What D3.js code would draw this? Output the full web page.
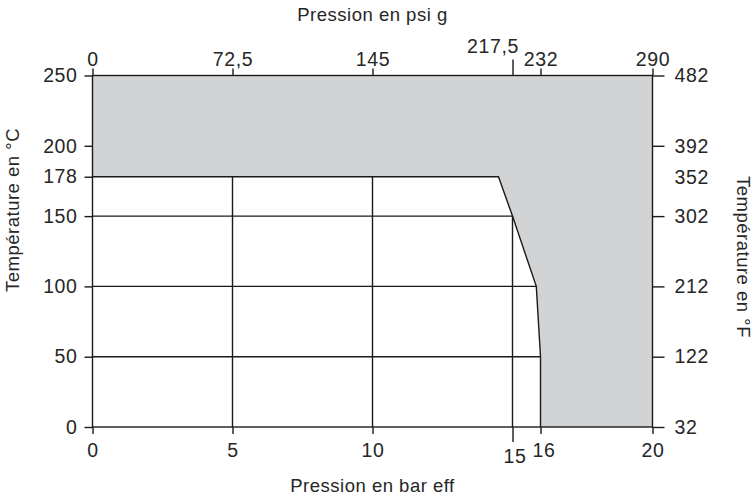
<!DOCTYPE html>
<html>
<head>
<meta charset="utf-8">
<script src="https://cdn.jsdelivr.net/npm/d3@7"></script>
<style>
  body { margin: 0; background: #fff; }
  text { font-family: "Liberation Sans", Arial, sans-serif; fill: #262626; }
  .tick text { font-size: 19.5px; letter-spacing: 0.6px; }
  .axis-title { font-size: 18.5px; letter-spacing: 0.5px; }
</style>
</head>
<body>
<div class="chart"></div>
<script>
// Tick labels on the four axes
var barTicks = [0, 5, 10, 15, 16, 20];
var psiTicks = [0, 72.5, 145, 217.5, 232, 290];
var celsiusTicks = [0, 50, 100, 150, 178, 200, 250];
var fahrenheitTicks = [32, 122, 212, 302, 352, 392, 482];

// Limit of the operating range (pressure in bar, temperature in °C)
var envelopeBar = [0, 14.5, 15, 15.85, 16, 16];
var envelopeC = [178, 178, 150, 100, 50, 0];

// Grid lines inside the white area
var gridC = [50, 100, 150];
var gridBar = [5, 10, 15];

var svgWidth = 753;
var svgHeight = 497;
var margin = { top: 75.5, right: 100.5, bottom: 70, left: 92.5 };
var width = svgWidth - margin.left - margin.right;
var height = svgHeight - margin.top - margin.bottom;

var svg = d3.select(".chart")
  .append("svg")
  .attr("width", svgWidth)
  .attr("height", svgHeight);
var chart = svg.append("g")
  .attr("transform", "translate(" + margin.left + "," + margin.top + ")");

// Scales
var xScale = d3.scaleLinear().domain([0, 20]).range([0, width]);
var psiScale = d3.scaleLinear().domain([0, 290]).range([0, width]);
var yScale = d3.scaleLinear().domain([0, 250]).range([height, 0]);
var fScale = d3.scaleLinear().domain([32, 482]).range([height, 0]);

var comma = function(d) { return String(d).replace(".", ","); };
var lineColor = "#1a1a1a";

// Gray background, white operating area on top
chart.append("rect")
  .attr("width", width)
  .attr("height", height)
  .attr("fill", "#d2d3d5");

var envelope = envelopeBar.map(function(b, i) { return [b, envelopeC[i]]; });
var area = [[0, 0]].concat(envelope);
var line = d3.line()
  .x(function(d) { return xScale(d[0]); })
  .y(function(d) { return yScale(d[1]); });

chart.append("path")
  .attr("d", line(area) + "Z")
  .attr("fill", "#fff");

// Pressure on the envelope for a temperature
function pressureAt(t) {
  for (var i = 1; i < envelope.length; i++) {
    var a = envelope[i - 1], b = envelope[i];
    if (t <= a[1] && t >= b[1] && a[1] !== b[1]) {
      return a[0] + (b[0] - a[0]) * (a[1] - t) / (a[1] - b[1]);
    }
  }
  return envelope[0][0];
}
// Highest temperature on the envelope for a pressure
function temperatureAt(p) {
  for (var i = 1; i < envelope.length; i++) {
    var a = envelope[i - 1], b = envelope[i];
    if (b[0] >= p) {
      if (b[0] === a[0]) return a[1];
      return a[1] + (b[1] - a[1]) * (p - a[0]) / (b[0] - a[0]);
    }
  }
  return 0;
}

chart.selectAll(".hgrid")
  .data(gridC)
  .enter().append("line")
    .attr("x1", 0)
    .attr("x2", function(d) { return xScale(pressureAt(d)); })
    .attr("y1", function(d) { return yScale(d); })
    .attr("y2", function(d) { return yScale(d); })
    .attr("stroke", lineColor)
    .attr("stroke-width", 1.4);

chart.selectAll(".vgrid")
  .data(gridBar)
  .enter().append("line")
    .attr("x1", function(d) { return xScale(d); })
    .attr("x2", function(d) { return xScale(d); })
    .attr("y1", height)
    .attr("y2", function(d) { return yScale(temperatureAt(d)); })
    .attr("stroke", lineColor)
    .attr("stroke-width", 1.4);

chart.append("path")
  .attr("d", line(envelope))
  .attr("fill", "none")
  .attr("stroke", lineColor)
  .attr("stroke-width", 1.4);

// Frame
chart.append("rect")
  .attr("width", width)
  .attr("height", height)
  .attr("fill", "none")
  .attr("stroke", lineColor)
  .attr("stroke-width", 1.4);

// Axes
var bottomAxis = d3.axisBottom(xScale).tickValues(barTicks).tickSize(7).tickPadding(9).tickSizeOuter(0);
var topAxis = d3.axisTop(psiScale).tickValues(psiTicks).tickFormat(comma).tickSize(7).tickPadding(3).tickSizeOuter(0);
var leftAxis = d3.axisLeft(yScale).tickValues(celsiusTicks).tickSize(8).tickPadding(7).tickSizeOuter(0);
var rightAxis = d3.axisRight(fScale).tickValues(fahrenheitTicks).tickSize(12).tickPadding(10).tickSizeOuter(0);

function styleAxis(g) {
  g.select(".domain").remove();
  g.selectAll(".tick line").attr("stroke", lineColor).attr("stroke-width", 1.4);
  g.selectAll(".tick text").attr("fill", "#262626");
  g.attr("font-family", null).attr("font-size", null);
}

var gBottom = chart.append("g")
  .attr("transform", "translate(0," + height + ")")
  .call(bottomAxis).call(styleAxis);
gBottom.selectAll(".tick").filter(function(d) { return d === 15; })
  .each(function() {
    d3.select(this).select("line").attr("y2", 15);
    d3.select(this).select("text").attr("y", 22).attr("dx", 2);
  });
gBottom.selectAll(".tick").filter(function(d) { return d === 16; })
  .select("text").attr("dx", 3);

var gTop = chart.append("g")
  .call(topAxis).call(styleAxis);
gTop.selectAll(".tick").filter(function(d) { return d === 217.5; })
  .each(function() {
    d3.select(this).select("line").attr("y2", -16);
    d3.select(this).select("text").attr("y", -23).attr("dx", -20);
  });

chart.append("g")
  .call(leftAxis).call(styleAxis);

var gRight = chart.append("g")
  .attr("transform", "translate(" + width + ",0)")
  .call(rightAxis).call(styleAxis);
gRight.selectAll(".tick").filter(function(d) { return d === 352; })
  .select("line").remove();

// Axis titles
svg.append("text")
  .attr("class", "axis-title")
  .attr("x", margin.left + width / 2)
  .attr("y", 491.5)
  .attr("text-anchor", "middle")
  .text("Pression en bar eff");

svg.append("text")
  .attr("class", "axis-title")
  .attr("x", margin.left + width / 2)
  .attr("y", 21)
  .attr("text-anchor", "middle")
  .text("Pression en psi g");

svg.append("text")
  .attr("class", "axis-title")
  .attr("transform", "translate(19,210) rotate(-90)")
  .attr("text-anchor", "middle")
  .text("Température en °C");

svg.append("text")
  .attr("class", "axis-title")
  .attr("transform", "translate(737,257) rotate(90)")
  .attr("text-anchor", "middle")
  .text("Température en °F");
</script>
</body>
</html>
